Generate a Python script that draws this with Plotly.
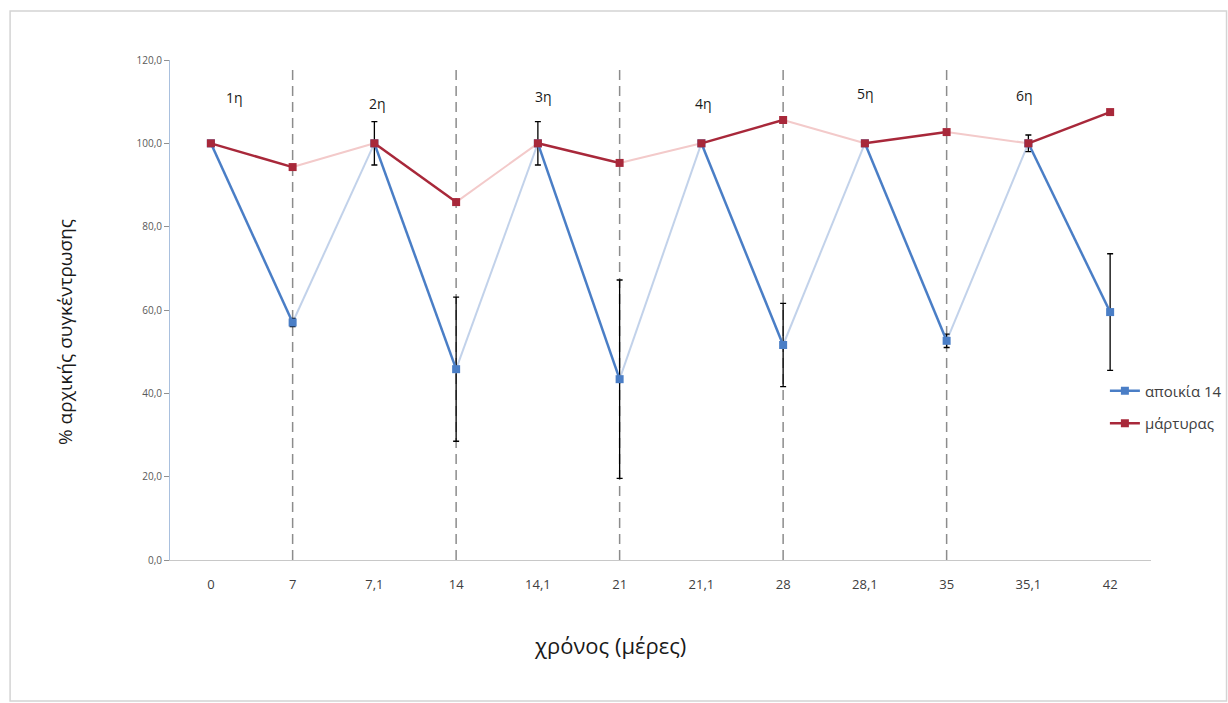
import plotly.graph_objects as go

categories = ["0", "7", "7,1", "14", "14,1", "21", "21,1", "28", "28,1", "35", "35,1", "42"]
colony14 = [100.0, 57.0, 100.0, 45.8, 100.0, 43.4, 100.0, 51.6, 100.0, 52.6, 100.0, 59.5]
colony14_err = [0.0, 1.0, 5.2, 17.3, 5.2, 23.8, 0.0, 10.0, 0.0, 1.6, 2.0, 14.0]
control = [100.0, 94.3, 100.0, 85.9, 100.0, 95.3, 100.0, 105.6, 100.0, 102.7, 100.0, 107.5]
period_labels = ["1η", "2η", "3η", "4η", "5η", "6η"]
period_boundaries = [1, 3, 5, 7, 9]  # indices of categories 7,14,21,28,35

# label placement (styling)
period_label_x = [0.29, 2.04, 4.07, 6.02, 8.01, 9.95]
period_label_y = [111.1, 109.5, 111.3, 109.5, 112.0, 111.5]

FONT = "Open Sans"
idx = list(range(len(categories)))


def segments(vals, start, errs=None):
    xs, ys, es = [], [], []
    for i in range(start, len(vals) - 1, 2):
        xs += [idx[i], idx[i + 1], None]
        ys += [vals[i], vals[i + 1], None]
        if errs is not None:
            es += [errs[i], errs[i + 1], None]
    return xs, ys, es


fig = go.Figure()

series = [
    ("αποικία 14", colony14, colony14_err, "#4a7ec6", "#c2d2ea", "#4a7ec6"),
    ("μάρτυρας", control, None, "#a8283a", "#f3caca", "#a8283a"),
]

# light connecting segments first
for name, vals, errs, dark, light, mk in series:
    lx, ly, _ = segments(vals, 1)
    fig.add_trace(go.Scatter(x=lx, y=ly, mode="lines", line=dict(color=light, width=2),
                             showlegend=False, hoverinfo="skip"))

for name, vals, errs, dark, light, mk in series:
    dx, dy, de = segments(vals, 0, errs)
    kw = {}
    if errs is not None:
        kw["error_y"] = dict(type="data", array=[e if e is not None else 0 for e in de],
                             color="#000000", thickness=1.3, width=3, visible=True)
    fig.add_trace(go.Scatter(x=dx, y=dy, mode="lines+markers", name=name, legendgroup=name,
                             line=dict(color=dark, width=2.5),
                             marker=dict(symbol="square", size=8, color=mk),
                             **kw))

shapes = []
for b in period_boundaries:
    shapes.append(dict(type="line", xref="x", yref="y", x0=b, x1=b, y0=0, y1=118.8,
                       line=dict(color="#8c8c8c", width=1.5, dash="10px,6px"), layer="below"))
# outer chart border
shapes.append(dict(type="rect", xref="paper", yref="paper", x0=-0.163, x1=1.077, y0=-0.282, y1=1.098,
                   line=dict(color="#d4d4d4", width=1.5), layer="below"))

annotations = []
for t, x, y in zip(period_labels, period_label_x, period_label_y):
    annotations.append(dict(text=t, x=x, y=y, xref="x", yref="y", showarrow=False,
                            font=dict(family=FONT, size=14, color="#1a1a1a")))
annotations.append(dict(text="% αρχικής συγκέντρωσης", x=-0.107, y=0.456, xref="paper", yref="paper",
                        xanchor="center", yanchor="middle",
                        textangle=-90, showarrow=False, font=dict(family=FONT, size=19, color="#1a1a1a")))
annotations.append(dict(text="χρόνος (μέρες)", x=0.4485, y=-0.17, xref="paper", yref="paper",
                        xanchor="center", yanchor="middle",
                        showarrow=False, font=dict(family=FONT, size=22, color="#1a1a1a")))

fig.update_layout(
    width=1228, height=703,
    margin=dict(l=170, r=77, t=60, b=143, autoexpand=False),
    paper_bgcolor="white", plot_bgcolor="white",
    separators=", ",
    font=dict(family=FONT),
    shapes=shapes, annotations=annotations,
    legend=dict(x=0.953, y=0.306, xanchor="left", yanchor="middle",
                bgcolor="rgba(0,0,0,0)", font=dict(family=FONT, size=15, color="#404040"),
                tracegroupgap=10, itemwidth=30),
    showlegend=True,
)
fig.update_xaxes(range=[-0.5, 11.5], tickmode="array", tickvals=idx, ticktext=categories,
                 showgrid=False, zeroline=False, showline=True, linecolor="#c8c8c8", linewidth=1,
                 ticks="", tickfont=dict(family=FONT, size=13, color="#404040"), ticklabelstandoff=12)
fig.update_yaxes(range=[0, 120], tickvals=[0, 20, 40, 60, 80, 100, 120], tickformat=".1f",
                 showgrid=False, zeroline=False, showline=True, linecolor="#a9c0de", linewidth=1,
                 ticks="outside", ticklen=5, tickcolor="#909090",
                 tickfont=dict(family=FONT, size=10, color="#595959"))

fig.write_html("out.html")
